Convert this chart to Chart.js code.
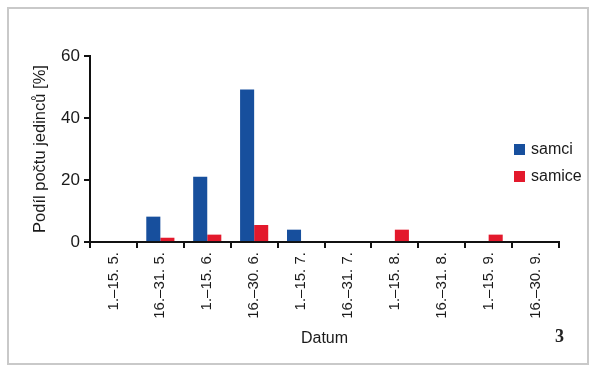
<!DOCTYPE html>
<html>
<head>
<meta charset="utf-8">
<script src="https://cdn.jsdelivr.net/npm/chart.js@4"></script>
<style>
  html, body { margin: 0; padding: 0; background: #fff; }
  #wrap { position: relative; width: 599px; height: 375px; }
  #frame { position: absolute; left: 7px; top: 7px; width: 578px; height: 354px; border: 2px solid #c9c9c9; }
  #num { position: absolute; left: 555px; top: 326px; font: bold 18px "Liberation Serif", serif; color: #222; }
</style>
</head>
<body>
<div id="wrap">
  <div id="frame"></div>
  <canvas id="myChart" width="599" height="375"></canvas>
  <div id="num">3</div>
</div>
<script>
  // Gegevens
  const categories = ['1.–15. 5.', '16.–31. 5.', '1.–15. 6.', '16.–30. 6.', '1.–15. 7.',
                      '16.–31. 7.', '1.–15. 8.', '16.–31. 8.', '1.–15. 9.', '16.–30. 9.'];
  const samci  = [0, 8.2, 21.1, 49.2, 4.0, 0, 0, 0, 0, 0];
  const samice = [0, 1.4, 2.4, 5.5, 0, 0, 4.0, 0, 2.4, 0];
  const yTicks = [0, 20, 40, 60];

  const FONT = '"Liberation Sans", Arial, sans-serif';

  // Legenda binnen het plotgebied tekenen
  const insideLegend = {
    id: 'insideLegend',
    afterDraw(chart) {
      const ctx = chart.ctx;
      ctx.save();
      ctx.font = '16px ' + FONT;
      ctx.textBaseline = 'middle';
      chart.data.datasets.forEach((ds, i) => {
        const y = 150 + i * 27;
        ctx.fillStyle = ds.backgroundColor;
        ctx.fillRect(514, y - 6, 11, 11);
        ctx.fillStyle = '#1a1a1a';
        ctx.fillText(ds.label, 531, y);
      });
      ctx.restore();
    }
  };

  const ctx = document.getElementById('myChart').getContext('2d');
  new Chart(ctx, {
    type: 'bar',
    data: {
      labels: categories,
      datasets: [
        { label: 'samci', data: samci, backgroundColor: '#174f9d', categoryPercentage: 0.6, barPercentage: 1.0 },
        { label: 'samice', data: samice, backgroundColor: '#e3192c', categoryPercentage: 0.6, barPercentage: 1.0 }
      ]
    },
    options: {
      responsive: false,
      animation: false,
      layout: { padding: { left: 31, right: 40, top: 56, bottom: 27 } },
      plugins: { legend: { display: false }, tooltip: { enabled: false } },
      scales: {
        x: {
          grid: { offset: true, drawOnChartArea: false, tickLength: 6, color: '#111', lineWidth: 2 },
          border: { display: true, color: '#111', width: 2 },
          ticks: { minRotation: 90, maxRotation: 90, color: '#1a1a1a', font: { family: FONT, size: 15 }, padding: 4 },
          title: { display: true, text: 'Datum', color: '#1a1a1a', font: { family: FONT, size: 16 }, padding: { top: 6, bottom: 0 } }
        },
        y: {
          min: 0, max: 60,
          afterBuildTicks(scale) { scale.ticks = yTicks.map(v => ({ value: v })); },
          afterFit(scale) { scale.width = 59; },
          grid: { drawOnChartArea: false, tickLength: 6, color: '#111', lineWidth: 2 },
          border: { display: true, color: '#111', width: 2 },
          ticks: { color: '#1a1a1a', font: { family: FONT, size: 17 }, padding: 4 },
          title: { display: true, text: 'Podíl počtu jedinců [%]', color: '#1a1a1a', font: { family: FONT, size: 16.5 }, padding: 0 }
        }
      }
    },
    plugins: [insideLegend]
  });
</script>
</body>
</html>
